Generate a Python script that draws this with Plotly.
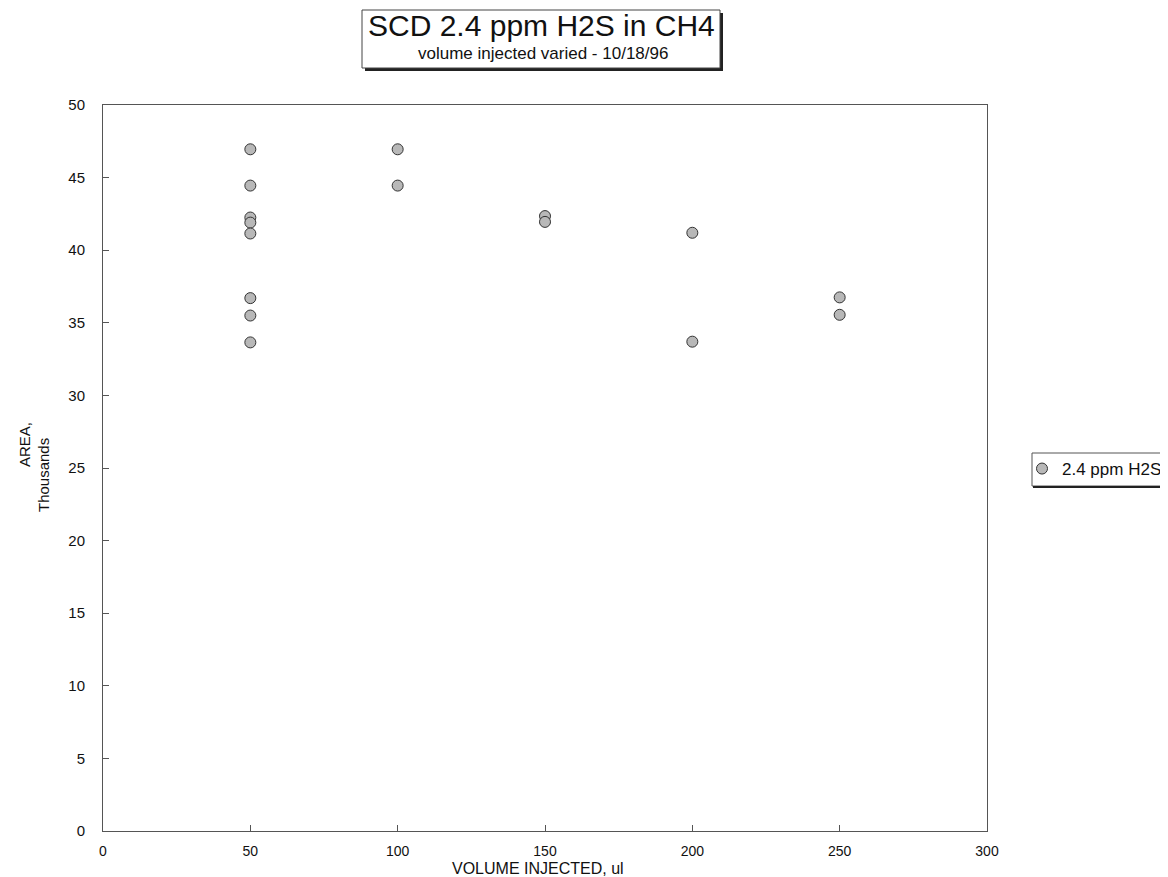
import plotly.graph_objects as go

# Data (AREA in thousands)
vol_50 = [50] * 8
area_50 = [46.95, 44.45, 42.25, 41.9, 41.15, 36.7, 35.5, 33.65]
vol_100 = [100, 100]
area_100 = [46.95, 44.45]
vol_150 = [150, 150]
area_150 = [42.35, 41.95]
vol_200 = [200, 200]
area_200 = [41.2, 33.7]
vol_250 = [250, 250]
area_250 = [36.75, 35.55]

x_vals = vol_50 + vol_100 + vol_150 + vol_200 + vol_250
y_vals = area_50 + area_100 + area_150 + area_200 + area_250

series_name = "2.4 ppm H2S"
title_text = "SCD 2.4 ppm H2S in CH4"
subtitle_text = "volume injected varied - 10/18/96"
x_ticks = [0, 50, 100, 150, 200, 250, 300]
y_ticks = [0, 5, 10, 15, 20, 25, 30, 35, 40, 45, 50]

FONT = "Liberation Sans, Arial, sans-serif"

fig = go.Figure()
fig.add_trace(go.Scatter(
    x=x_vals, y=y_vals, mode="markers", name=series_name,
    marker=dict(symbol="circle", size=11, color="#b8b8b8",
                line=dict(color="#333333", width=1)),
    showlegend=True,
))

# page body has an 8px margin; work in screen coordinates and convert
OFF = 8
W, H = 1168 - OFF, 877 - OFF
L, R, T, B = 103 - OFF, 987 - OFF, 105 - OFF, 831 - OFF

def px(xs):
    return (xs - OFF - L) / (R - L)

def py(ys):
    return (B - (ys - OFF)) / (B - T)

fig.update_layout(
    width=W, height=H,
    margin=dict(l=L, r=W - R, t=T, b=H - B, pad=0, autoexpand=False),
    paper_bgcolor="white", plot_bgcolor="white",
    font=dict(family=FONT, color="#111", size=15),
    showlegend=True,
    legend=dict(x=px(1022), y=py(469), xanchor="left", yanchor="middle",
                borderwidth=0, bgcolor="rgba(0,0,0,0)",
                font=dict(size=17, family=FONT, color="#111"),
                itemwidth=30, tracegroupgap=0),
    xaxis=dict(range=[0, 300], tickvals=x_ticks, showgrid=False, zeroline=False,
               showline=True, linecolor="#555", linewidth=1, mirror=True,
               ticks="inside", ticklen=6, tickcolor="#555", automargin=False,
               tickfont=dict(size=14, family=FONT), ticklabelstandoff=7,
               title=dict(text="")),
    yaxis=dict(range=[0, 50], tickvals=y_ticks, showgrid=False, zeroline=False,
               showline=True, linecolor="#555", linewidth=1, mirror=True,
               ticks="inside", ticklen=6, tickcolor="#555", automargin=False,
               tickfont=dict(size=15, family=FONT), ticklabelstandoff=14,
               title=dict(text="")),
)

# X axis title
fig.add_annotation(xref="paper", yref="paper", x=px(538), y=py(878), text="VOLUME INJECTED, ul",
                   showarrow=False, font=dict(size=16, family=FONT),
                   xanchor="center", yanchor="bottom", borderpad=0)

# Y axis title (two lines)
fig.add_annotation(xref="paper", yref="paper", x=px(25), y=py(445), text="AREA,",
                   textangle=-90, showarrow=False, font=dict(size=15, family=FONT),
                   xanchor="center", yanchor="middle")
fig.add_annotation(xref="paper", yref="paper", x=px(44), y=py(475), text="Thousands",
                   textangle=-90, showarrow=False, font=dict(size=15, family=FONT),
                   xanchor="center", yanchor="middle")

# Title box with shadow
fig.add_shape(type="rect", xref="paper", yref="paper",
              x0=px(365), x1=px(723), y0=py(71), y1=py(13),
              line=dict(width=0), fillcolor="#222", layer="above")
fig.add_shape(type="rect", xref="paper", yref="paper",
              x0=px(362), x1=px(720), y0=py(68), y1=py(10),
              line=dict(color="#444", width=1), fillcolor="white", layer="above")
fig.add_annotation(xref="paper", yref="paper", x=px(541), y=py(25), text=title_text,
                   showarrow=False, font=dict(size=30, family=FONT, color="#111"),
                   xanchor="center", yanchor="middle")
fig.add_annotation(xref="paper", yref="paper", x=px(543), y=py(54), text=subtitle_text,
                   showarrow=False, font=dict(size=17, family=FONT, color="#111"),
                   xanchor="center", yanchor="middle")

# Legend box with bottom shadow
fig.add_shape(type="rect", xref="paper", yref="paper",
              x0=px(1032), x1=px(1180), y0=py(486), y1=py(453),
              line=dict(color="#555", width=1), fillcolor="rgba(0,0,0,0)", layer="below")
fig.add_shape(type="line", xref="paper", yref="paper",
              x0=px(1033), x1=px(1168), y0=py(487), y1=py(487),
              line=dict(color="#222", width=2), layer="below")

fig.write_html("out.html")
